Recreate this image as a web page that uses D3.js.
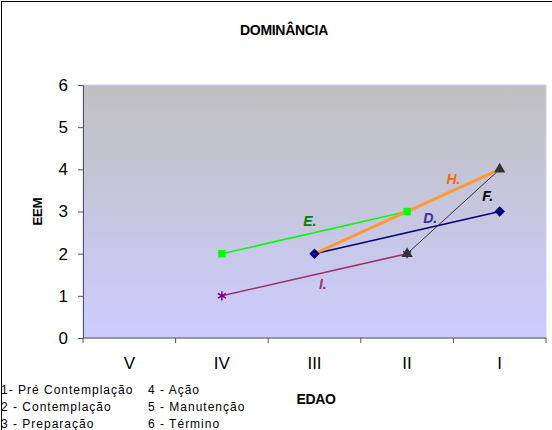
<!DOCTYPE html>
<html>
<head>
<meta charset="utf-8">
<script src="https://cdn.jsdelivr.net/npm/d3@7"></script>
<style>
  body { margin: 0; background: #fff; }
  svg { font-family: Arial, "Liberation Sans", sans-serif; }
</style>
</head>
<body>
<div id="chart"></div>
<script>
// categorias do eixo X (EDAO) e ticks do eixo Y
const categories = ["V", "IV", "III", "II", "I"];
const yTicks = [0, 1, 2, 3, 4, 5, 6];

// séries (null = sem valor)
const serieE = [null, 2, null, 3, null];
const serieH = [null, null, 2, null, 4];
const serieD = [null, null, 2, null, 3];
const serieF = [null, null, null, 2, 4];
const serieI = [null, 1, null, 2, null];

// rótulos das séries: [índice da categoria, valor]
const labelNames = ["E.", "H.", "F.", "D.", "I."];
const labelPos = [[1.95, 2.78], [3.5, 3.77], [3.87, 3.36], [3.25, 2.85], [2.09, 1.28]];

const legendLeft = ["1- Pré Contemplação", "2 - Contemplação", "3 - Preparação"];
const legendRight = ["4 - Ação", "5 - Manutenção", "6 - Término"];

const W = 552, H = 430;
const margin = { top: 85, right: 6, bottom: 92, left: 83 };
const width = W - margin.left - margin.right,
      height = H - margin.top - margin.bottom;

const svg = d3.select("#chart").append("svg")
    .attr("width", W)
    .attr("height", H);

// moldura externa
svg.append("rect")
    .attr("x", 1.5).attr("y", 1.5)
    .attr("width", W + 10).attr("height", H + 10)
    .attr("fill", "#fff")
    .attr("stroke", "#000")
    .attr("stroke-width", 1);

const defs = svg.append("defs");
const grad = defs.append("linearGradient")
    .attr("id", "bg").attr("x1", 0).attr("y1", 0).attr("x2", 0).attr("y2", 1);
grad.append("stop").attr("offset", "0%").attr("stop-color", "#c0c0c0");
grad.append("stop").attr("offset", "100%").attr("stop-color", "#ccccff");

svg.append("text")
    .attr("x", 284).attr("y", 35)
    .attr("text-anchor", "middle")
    .style("font-size", "14px").style("font-weight", "bold")
    .style("letter-spacing", "-0.3px")
    .text("DOMINÂNCIA");

const g = svg.append("g").attr("transform", `translate(${margin.left},${margin.top})`);

const x = d3.scaleBand().domain(categories).range([0, width]);
const xi = d3.scaleLinear().domain([0, categories.length - 1])
    .range([x(categories[0]) + x.bandwidth() / 2, x(categories[categories.length - 1]) + x.bandwidth() / 2]);
const y = d3.scaleLinear().domain([0, 6]).range([height, 0]);

g.append("rect")
    .attr("width", width).attr("height", height)
    .attr("fill", "url(#bg)")
    .attr("stroke", "#ccccff");

// eixo Y
const yAxis = g.append("g")
    .call(d3.axisLeft(y).tickValues(yTicks).tickFormat(d3.format("d")).tickSize(5).tickPadding(10));
yAxis.select(".domain").attr("stroke", "#555");
yAxis.selectAll(".tick line").attr("stroke", "#555");
yAxis.selectAll("text").style("font-size", "17px").attr("fill", "#000");

// eixo X com ticks nas divisões
const xAxis = g.append("g").attr("transform", `translate(0,${height})`);
xAxis.append("line").attr("x1", 0).attr("x2", width).attr("stroke", "#555");
const bounds = categories.map(c => x(c)).concat([width]);
xAxis.selectAll(".tk").data(bounds).enter().append("line")
    .attr("x1", d => d).attr("x2", d => d).attr("y1", 0).attr("y2", 5)
    .attr("stroke", "#555");
xAxis.selectAll(".lbl").data(categories).enter().append("text")
    .attr("x", d => x(d) + x.bandwidth() / 2)
    .attr("y", 31)
    .attr("text-anchor", "middle")
    .style("font-size", "17px")
    .text(d => d);

svg.append("text")
    .attr("transform", `translate(42,${margin.top + height / 2}) rotate(-90)`)
    .attr("text-anchor", "middle")
    .style("font-size", "13px").style("font-weight", "bold")
    .text("EEM");

svg.append("text")
    .attr("x", 316).attr("y", 404)
    .attr("text-anchor", "middle")
    .style("font-size", "14px").style("font-weight", "bold")
    .style("letter-spacing", "-0.3px")
    .text("EDAO");

const series = [
    { name: "E", values: serieE, color: "#00ff00", w: 1.5, marker: "square", mcolor: "#00ff00" },
    { name: "I", values: serieI, color: "#993366", w: 1.5, marker: "star", mcolor: "#800080" },
    { name: "D", values: serieD, color: "#000080", w: 1.5, marker: "diamond", mcolor: "#000080" },
    { name: "F", values: serieF, color: "#333333", w: 1, marker: "triangle", mcolor: "#333333" },
    { name: "H", values: serieH, color: "#ff9933", w: 3, marker: null }
];

const line = d3.line()
    .x(d => x(d.cat) + x.bandwidth() / 2)
    .y(d => y(d.v));

series.forEach(s => {
    const pts = s.values.map((v, i) => ({ cat: categories[i], v })).filter(d => d.v !== null);
    g.append("path")
        .datum(pts)
        .attr("fill", "none")
        .attr("stroke", s.color)
        .attr("stroke-width", s.w)
        .attr("d", line);
    s.pts = pts;
});

// losango quadrado (como no Excel)
const symDiamond = {
    draw(ctx, size) {
        const r = Math.sqrt(size / 2);
        ctx.moveTo(0, -r); ctx.lineTo(r, 0); ctx.lineTo(0, r); ctx.lineTo(-r, 0); ctx.closePath();
    }
};
const symbols = { square: d3.symbolSquare, diamond: symDiamond, triangle: d3.symbolTriangle, star: d3.symbolAsterisk };
series.forEach(s => {
    if (!s.marker) return;
    const sym = d3.symbol().type(symbols[s.marker]).size(s.marker === "star" ? 60 : 55);
    g.selectAll(null).data(s.pts).enter().append("path")
        .attr("transform", d => `translate(${x(d.cat) + x.bandwidth() / 2},${y(d.v)})`)
        .attr("d", sym)
        .attr("fill", s.marker === "star" ? "none" : s.mcolor)
        .attr("stroke", s.mcolor)
        .attr("stroke-width", s.marker === "star" ? 1.5 : 0);
});

const labelColors = ["#008000", "#ff6600", "#000000", "#333399", "#993366"];
g.selectAll(".serie-lbl").data(labelNames).enter().append("text")
    .attr("x", (d, i) => xi(labelPos[i][0]))
    .attr("y", (d, i) => y(labelPos[i][1]))
    .attr("dy", "0.35em")
    .attr("text-anchor", "middle")
    .style("font-size", "14px").style("font-weight", "bold").style("font-style", "italic")
    .attr("fill", (d, i) => labelColors[i])
    .text(d => d);

// legenda das fases
const leg = svg.append("g").style("font-size", "12px").style("letter-spacing", "1px");
legendLeft.forEach((t, i) => {
    leg.append("text").attr("x", 1).attr("y", 394 + i * 17).text(t);
});
legendRight.forEach((t, i) => {
    leg.append("text").attr("x", 148).attr("y", 394 + i * 17).text(t);
});
</script>
</body>
</html>
